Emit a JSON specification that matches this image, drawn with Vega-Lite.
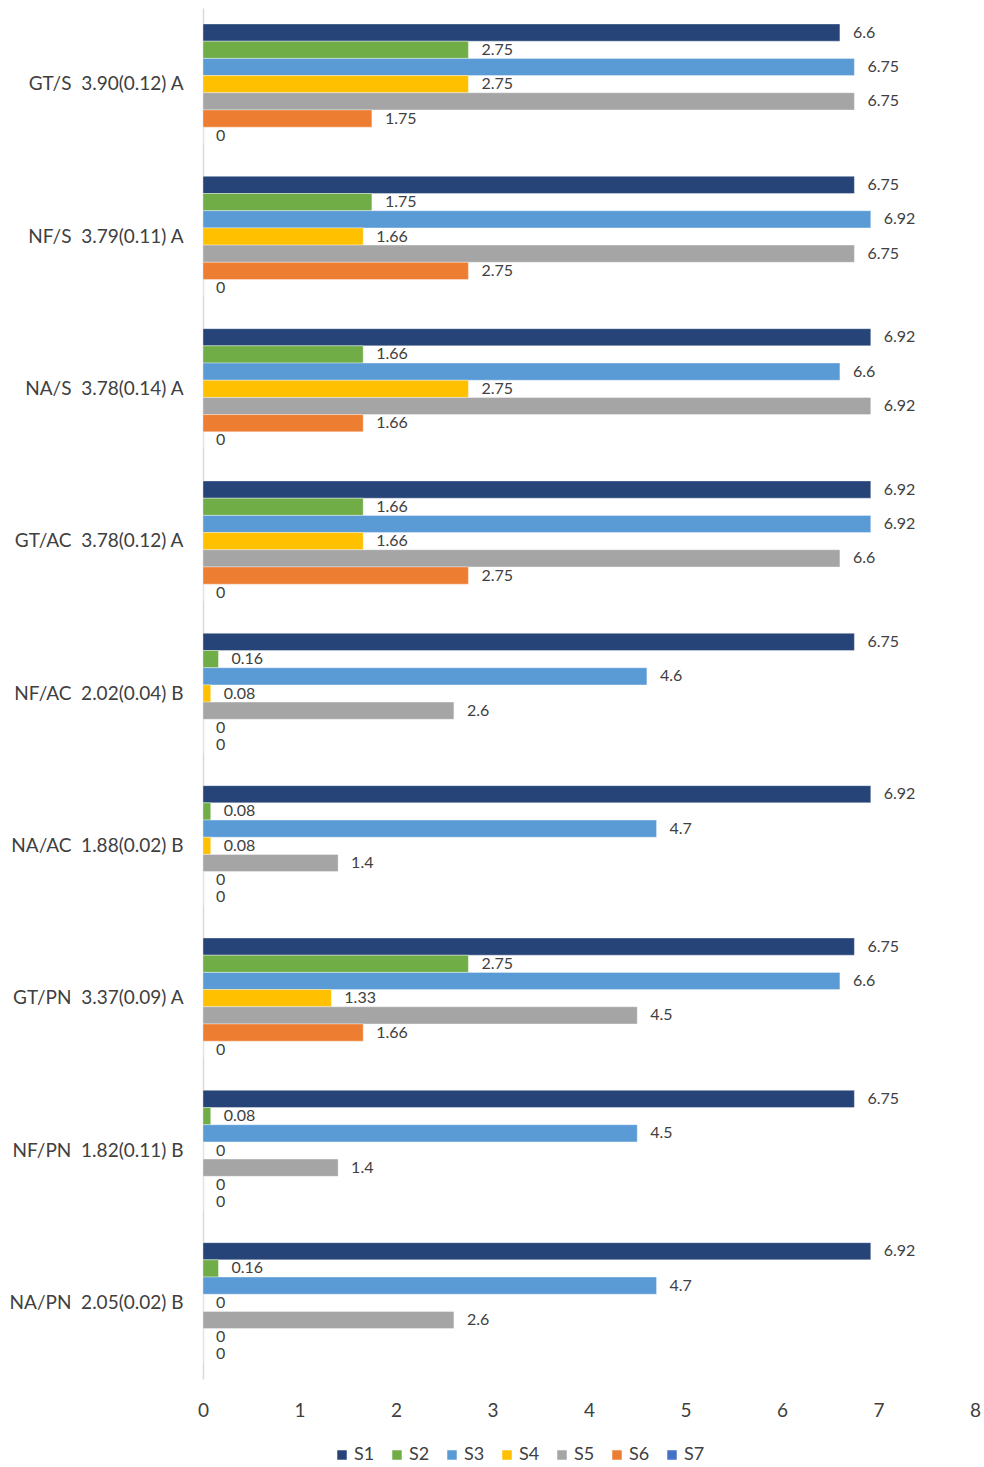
{
  "$schema": "https://vega.github.io/schema/vega-lite/v6.json",
  "autosize": {"type": "none"},
  "padding": {"left": 203, "top": 8, "right": 9, "bottom": 88},
  "width": 772,
  "height": 1371,
  "background": "white",
  "config": {
    "view": {"stroke": null},
    "font": "Lato",
    "axis": {"labelFont": "Lato", "labelColor": "#404040"},
    "legend": {"labelFont": "Lato", "labelColor": "#404040"}
  },
  "data": {
    "values": [
      {"cat": "GT/S\u00a0 3.90(0.12) A", "s": "S1", "v": 6.6},
      {"cat": "GT/S\u00a0 3.90(0.12) A", "s": "S2", "v": 2.75},
      {"cat": "GT/S\u00a0 3.90(0.12) A", "s": "S3", "v": 6.75},
      {"cat": "GT/S\u00a0 3.90(0.12) A", "s": "S4", "v": 2.75},
      {"cat": "GT/S\u00a0 3.90(0.12) A", "s": "S5", "v": 6.75},
      {"cat": "GT/S\u00a0 3.90(0.12) A", "s": "S6", "v": 1.75},
      {"cat": "GT/S\u00a0 3.90(0.12) A", "s": "S7", "v": 0},
      {"cat": "NF/S\u00a0 3.79(0.11) A", "s": "S1", "v": 6.75},
      {"cat": "NF/S\u00a0 3.79(0.11) A", "s": "S2", "v": 1.75},
      {"cat": "NF/S\u00a0 3.79(0.11) A", "s": "S3", "v": 6.92},
      {"cat": "NF/S\u00a0 3.79(0.11) A", "s": "S4", "v": 1.66},
      {"cat": "NF/S\u00a0 3.79(0.11) A", "s": "S5", "v": 6.75},
      {"cat": "NF/S\u00a0 3.79(0.11) A", "s": "S6", "v": 2.75},
      {"cat": "NF/S\u00a0 3.79(0.11) A", "s": "S7", "v": 0},
      {"cat": "NA/S\u00a0 3.78(0.14) A", "s": "S1", "v": 6.92},
      {"cat": "NA/S\u00a0 3.78(0.14) A", "s": "S2", "v": 1.66},
      {"cat": "NA/S\u00a0 3.78(0.14) A", "s": "S3", "v": 6.6},
      {"cat": "NA/S\u00a0 3.78(0.14) A", "s": "S4", "v": 2.75},
      {"cat": "NA/S\u00a0 3.78(0.14) A", "s": "S5", "v": 6.92},
      {"cat": "NA/S\u00a0 3.78(0.14) A", "s": "S6", "v": 1.66},
      {"cat": "NA/S\u00a0 3.78(0.14) A", "s": "S7", "v": 0},
      {"cat": "GT/AC\u00a0 3.78(0.12) A", "s": "S1", "v": 6.92},
      {"cat": "GT/AC\u00a0 3.78(0.12) A", "s": "S2", "v": 1.66},
      {"cat": "GT/AC\u00a0 3.78(0.12) A", "s": "S3", "v": 6.92},
      {"cat": "GT/AC\u00a0 3.78(0.12) A", "s": "S4", "v": 1.66},
      {"cat": "GT/AC\u00a0 3.78(0.12) A", "s": "S5", "v": 6.6},
      {"cat": "GT/AC\u00a0 3.78(0.12) A", "s": "S6", "v": 2.75},
      {"cat": "GT/AC\u00a0 3.78(0.12) A", "s": "S7", "v": 0},
      {"cat": "NF/AC\u00a0 2.02(0.04) B", "s": "S1", "v": 6.75},
      {"cat": "NF/AC\u00a0 2.02(0.04) B", "s": "S2", "v": 0.16},
      {"cat": "NF/AC\u00a0 2.02(0.04) B", "s": "S3", "v": 4.6},
      {"cat": "NF/AC\u00a0 2.02(0.04) B", "s": "S4", "v": 0.08},
      {"cat": "NF/AC\u00a0 2.02(0.04) B", "s": "S5", "v": 2.6},
      {"cat": "NF/AC\u00a0 2.02(0.04) B", "s": "S6", "v": 0},
      {"cat": "NF/AC\u00a0 2.02(0.04) B", "s": "S7", "v": 0},
      {"cat": "NA/AC\u00a0 1.88(0.02) B", "s": "S1", "v": 6.92},
      {"cat": "NA/AC\u00a0 1.88(0.02) B", "s": "S2", "v": 0.08},
      {"cat": "NA/AC\u00a0 1.88(0.02) B", "s": "S3", "v": 4.7},
      {"cat": "NA/AC\u00a0 1.88(0.02) B", "s": "S4", "v": 0.08},
      {"cat": "NA/AC\u00a0 1.88(0.02) B", "s": "S5", "v": 1.4},
      {"cat": "NA/AC\u00a0 1.88(0.02) B", "s": "S6", "v": 0},
      {"cat": "NA/AC\u00a0 1.88(0.02) B", "s": "S7", "v": 0},
      {"cat": "GT/PN\u00a0 3.37(0.09) A", "s": "S1", "v": 6.75},
      {"cat": "GT/PN\u00a0 3.37(0.09) A", "s": "S2", "v": 2.75},
      {"cat": "GT/PN\u00a0 3.37(0.09) A", "s": "S3", "v": 6.6},
      {"cat": "GT/PN\u00a0 3.37(0.09) A", "s": "S4", "v": 1.33},
      {"cat": "GT/PN\u00a0 3.37(0.09) A", "s": "S5", "v": 4.5},
      {"cat": "GT/PN\u00a0 3.37(0.09) A", "s": "S6", "v": 1.66},
      {"cat": "GT/PN\u00a0 3.37(0.09) A", "s": "S7", "v": 0},
      {"cat": "NF/PN\u00a0 1.82(0.11) B", "s": "S1", "v": 6.75},
      {"cat": "NF/PN\u00a0 1.82(0.11) B", "s": "S2", "v": 0.08},
      {"cat": "NF/PN\u00a0 1.82(0.11) B", "s": "S3", "v": 4.5},
      {"cat": "NF/PN\u00a0 1.82(0.11) B", "s": "S4", "v": 0},
      {"cat": "NF/PN\u00a0 1.82(0.11) B", "s": "S5", "v": 1.4},
      {"cat": "NF/PN\u00a0 1.82(0.11) B", "s": "S6", "v": 0},
      {"cat": "NF/PN\u00a0 1.82(0.11) B", "s": "S7", "v": 0},
      {"cat": "NA/PN\u00a0 2.05(0.02) B", "s": "S1", "v": 6.92},
      {"cat": "NA/PN\u00a0 2.05(0.02) B", "s": "S2", "v": 0.16},
      {"cat": "NA/PN\u00a0 2.05(0.02) B", "s": "S3", "v": 4.7},
      {"cat": "NA/PN\u00a0 2.05(0.02) B", "s": "S4", "v": 0},
      {"cat": "NA/PN\u00a0 2.05(0.02) B", "s": "S5", "v": 2.6},
      {"cat": "NA/PN\u00a0 2.05(0.02) B", "s": "S6", "v": 0},
      {"cat": "NA/PN\u00a0 2.05(0.02) B", "s": "S7", "v": 0}
    ]
  },
  "encoding": {
    "y": {
      "field": "cat", "type": "nominal", "sort": null,
      "scale": {"paddingInner": 0.21, "paddingOuter": 0.105},
      "axis": {
        "title": null, "ticks": false, "domainColor": "#d9d9d9", "domainWidth": 1.5,
        "labelFontSize": 19, "labelPadding": 20, "labelLimit": 300
      }
    },
    "yOffset": {"field": "s", "type": "nominal", "sort": null, "scale": {"paddingInner": 0, "paddingOuter": 0}},
    "x": {
      "field": "v", "type": "quantitative",
      "scale": {"domain": [0, 8], "nice": false},
      "axis": {
        "title": null, "grid": false, "domain": false, "ticks": false,
        "values": [0, 1, 2, 3, 4, 5, 6, 7, 8], "labelFontSize": 19, "labelPadding": 22,
        "labelFlush": false
      }
    }
  },
  "layer": [
    {
      "mark": {"type": "bar", "stroke": "white", "strokeWidth": 0.6, "strokeOpacity": 0.6},
      "encoding": {
        "color": {
          "field": "s", "type": "nominal", "sort": null,
          "scale": {
            "domain": ["S1", "S2", "S3", "S4", "S5", "S6", "S7"],
            "range": ["#264478", "#70AD47", "#5B9BD5", "#FFC000", "#A5A5A5", "#ED7D31", "#4472C4"]
          },
          "legend": {
            "title": null, "orient": "none", "direction": "horizontal",
            "legendX": 130, "legendY": 1438,
            "symbolType": "square", "symbolSize": 90, "symbolStrokeWidth": 0,
            "labelFontSize": 18, "columnPadding": 13, "labelOffset": 3
          }
        }
      }
    },
    {
      "mark": {"type": "text", "align": "left", "baseline": "middle", "dx": 13, "fontSize": 16, "color": "#404040"},
      "encoding": {"text": {"field": "v", "type": "quantitative"}}
    }
  ]
}
